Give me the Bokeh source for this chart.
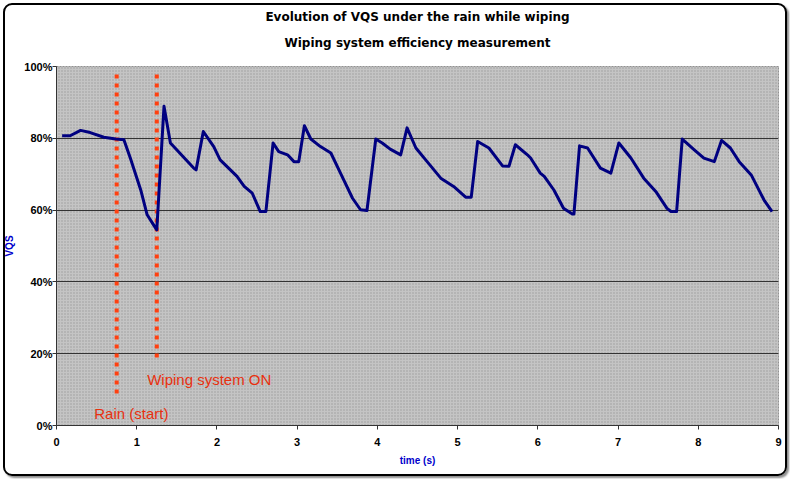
from bokeh.plotting import figure
from bokeh.models import (Title, BoxAnnotation, PrintfTickFormatter, FixedTicker,
                          Range1d, ColumnDataSource, InlineStyleSheet)
from bokeh.core.properties import value
from bokeh.embed import file_html
from bokeh.resources import INLINE

# ---- data ----
time_s = [0.07, 0.17, 0.30, 0.42, 0.59, 0.74, 0.84, 0.92, 1.05, 1.13, 1.21, 1.25,
          1.34, 1.42, 1.71, 1.74, 1.83, 1.96, 2.04, 2.25, 2.34, 2.44, 2.54, 2.61,
          2.70, 2.77, 2.88, 2.96, 3.02, 3.09, 3.17, 3.29, 3.42, 3.54, 3.69, 3.79,
          3.87, 3.98, 4.06, 4.16, 4.29, 4.37, 4.48, 4.62, 4.79, 4.95, 5.10, 5.17,
          5.25, 5.39, 5.56, 5.64, 5.72, 5.87, 5.91, 6.03, 6.08, 6.20, 6.32, 6.43,
          6.45, 6.52, 6.62, 6.78, 6.91, 7.01, 7.16, 7.32, 7.47, 7.61, 7.66, 7.73,
          7.80, 7.95, 8.07, 8.20, 8.29, 8.40, 8.51, 8.66, 8.82, 8.92]
vqs_pct = [80.7, 80.7, 82.2, 81.6, 80.3, 79.8, 79.6, 74.5, 65.6, 58.7, 55.9, 54.5,
           88.9, 78.7, 71.7, 71.2, 81.9, 77.7, 74.0, 69.4, 66.6, 64.7, 59.6, 59.6,
           78.7, 76.3, 75.4, 73.5, 73.5, 83.5, 79.8, 77.7, 75.9, 70.3, 63.3, 60.1,
           59.9, 79.8, 78.7, 77.0, 75.4, 82.9, 77.3, 73.5, 68.9, 66.6, 63.6, 63.6,
           79.1, 77.3, 72.3, 72.2, 78.2, 75.4, 74.5, 70.3, 69.4, 65.6, 60.5, 58.9,
           58.9, 77.9, 77.3, 71.7, 70.3, 78.7, 74.5, 68.9, 65.2, 60.5, 59.6, 59.6,
           79.8, 76.8, 74.5, 73.5, 79.4, 77.3, 73.5, 69.8, 62.8, 59.6]

event_time = [0.75, 1.25]
event_top = [97.8, 97.8]
event_bottom = [8.4, 18.2]
event_label = ["Rain (start)", "Wiping system ON"]
label_x = [0.47, 1.13]
label_y = [3.3, 12.8]

x_ticks = [0, 1, 2, 3, 4, 5, 6, 7, 8, 9]
y_ticks = [0, 20, 40, 60, 80, 100]

title_1 = "Evolution of VQS under the rain while wiping"
title_2 = "Wiping system efficiency measurement"

p = figure(width=790, height=479, output_backend="svg", toolbar_location=None,
           x_range=Range1d(0, 9), y_range=Range1d(0, 100),
           min_border_left=56, min_border_right=12, min_border_top=10,
           min_border_bottom=54)

p.title.text = ""
# spacer between the subtitle and the plot area
p.add_layout(Title(text=" ", align="center", text_font="DejaVu Sans",
                   text_font_size="9px", offset=0, standoff=2), "above")
p.add_layout(Title(text=title_2, align="center", text_font="DejaVu Sans",
                   text_font_size="12px", text_font_style="bold",
                   text_color="black", offset=0, standoff=6), "above")
p.add_layout(Title(text=title_1, align="center", text_font="DejaVu Sans",
                   text_font_size="12px", text_font_style="bold",
                   text_color="black", offset=0, standoff=14), "above")

p.background_fill_color = "#c2c2c2"
p.border_fill_color = "white"
p.outline_line_color = "#7f7f7f"
p.outline_line_dash = "2 1"

bg = BoxAnnotation(fill_color="#c4c4c4", fill_alpha=1.0, hatch_pattern="dot",
                   hatch_color="#9a9a9a", hatch_scale=3, hatch_weight=1,
                   line_color=None, level="image")
p.add_layout(bg)

p.xgrid.visible = False
p.ygrid.grid_line_color = "#333333"
p.ygrid.grid_line_width = 1
p.ygrid.ticker = FixedTicker(ticks=y_ticks)

for ax in (p.xaxis[0], p.yaxis[0]):
    ax.axis_line_color = "#333333"
    ax.axis_line_width = 1
    ax.major_tick_line_color = "#333333"
    ax.minor_tick_line_color = None
    ax.major_tick_in = 0
    ax.major_tick_out = 4
    ax.major_label_text_font = "Liberation Sans"
    ax.major_label_text_font_size = "11px"
    ax.major_label_text_font_style = "bold"
    ax.major_label_text_color = "black"
    ax.axis_label_text_font = "Liberation Sans"
    ax.axis_label_text_font_size = "10px"
    ax.axis_label_text_font_style = "bold"
    ax.axis_label_text_color = "#0000cc"

p.xaxis.ticker = FixedTicker(ticks=x_ticks)
p.yaxis.ticker = FixedTicker(ticks=y_ticks)
p.yaxis.formatter = PrintfTickFormatter(format="%d%%")
p.xaxis.axis_label = "time (s)"
p.yaxis.axis_label = "VQS"
p.xaxis.axis_label_standoff = 6
p.yaxis.axis_label_standoff = 6
p.xaxis.major_label_standoff = 8
p.yaxis.major_label_standoff = 0

# event markers
p.segment(x0=event_time, y0=event_top, x1=event_time, y1=event_bottom,
          line_color="#ff4010", line_width=4, line_dash="4 5")
src = ColumnDataSource(dict(x=label_x, y=label_y, t=event_label))
p.text(x="x", y="y", text="t", source=src, text_color="#e8300f",
       text_font_size="15px", text_baseline="middle", text_align="left",
       text_font=value("Liberation Sans"))

p.line(time_s, vqs_pct, line_color="#000080", line_width=3, line_join="round")

frame_css = InlineStyleSheet(css="""
:host { position: relative; }
:host::after {
  content: ''; position: absolute; left: 3px; top: 3px; right: 3px; bottom: 3px;
  border: 2px solid black; border-radius: 9px; pointer-events: none; z-index: 50;
  box-shadow: 2px 2px 2px rgba(0,0,0,0.45);
}
""")
p.stylesheets = [frame_css]

open("out.html", "w").write(file_html(p, INLINE))
